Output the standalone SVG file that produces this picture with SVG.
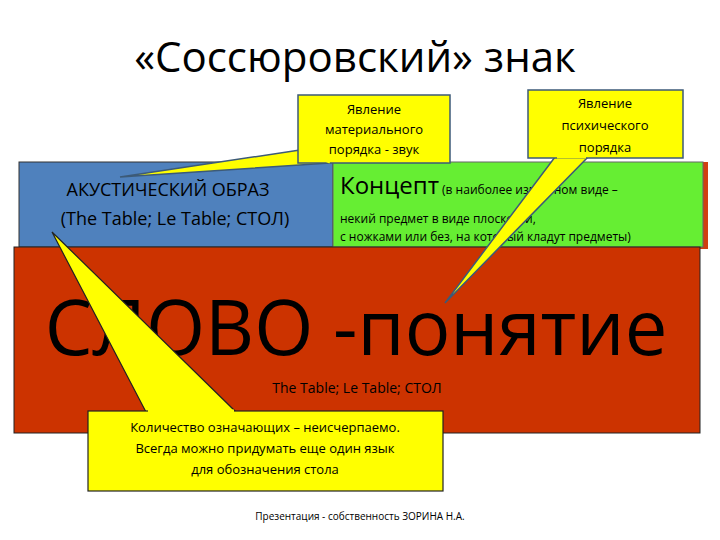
<svg xmlns="http://www.w3.org/2000/svg" width="720" height="540" viewBox="0 0 720 540">
<style>
text{font-family:"Open Sans","Liberation Sans",sans-serif;fill:#000}
.co{fill:#ffff00;stroke:#3c5a78;stroke-width:1.5}
.c3{fill:#ffff00;stroke:#222;stroke-width:1.2}
.s{font-size:13px;text-anchor:middle}
</style>
<rect width="720" height="540" fill="#fff"/>
<text x="355" y="72" font-size="42" text-anchor="middle">«Соссюровский» знак</text>
<g id="shadow"><rect x="336" y="162" width="372" height="87" fill="#d04010"/></g>
<g id="akust">
<rect x="19" y="162" width="314" height="85" fill="#4f81bd" stroke="#333"/>
<text x="168" y="196" font-size="18" text-anchor="middle" fill="#222">АКУСТИЧЕСКИЙ ОБРАЗ</text>
<text x="175" y="225" font-size="18" text-anchor="middle" fill="#222">(The Table; Le Table; СТОЛ)</text>
</g>
<g id="koncept">
<rect x="333" y="162" width="370" height="85" fill="#66ee33" stroke="#666"/>
<text x="340" y="194"><tspan font-size="24">Концепт</tspan><tspan font-size="12"> (в наиболее известном виде –</tspan></text>
<text x="340" y="223" font-size="12">некий предмет в виде плоскости,</text>
<text x="340" y="241" font-size="12">с ножками или без, на который кладут предметы)</text>
</g>
<g id="slovo">
<rect x="14" y="247" width="686" height="186" fill="#cc3300" stroke="#222"/>
<text x="356" y="355" font-size="76" text-anchor="middle">СЛОВО -понятие</text>
<text x="357" y="393" font-size="14" text-anchor="middle" fill="#222">The Table; Le Table; СТОЛ</text>
</g>
<g id="connectors">
<path class="co" d="M300,150 L120,177 L330,163 Z"/>
<path class="co" d="M555,157 L445,303 L588,157 Z"/>
<path class="c3" d="M146,412 L52,232 L236,412 Z"/>
</g>
<g id="callout1">
<rect class="co" x="298" y="95" width="152" height="68"/>
<path d="M302,150 L330,162" stroke="#ffff00" stroke-width="3"/>
<text class="s" x="374" y="114">Явление</text>
<text class="s" x="374" y="134">материального</text>
<text class="s" x="374" y="154">порядка - звук</text>
</g>
<g id="callout2">
<rect class="co" x="528" y="90" width="155" height="68"/>
<path d="M557,157 L586,157" stroke="#ffff00" stroke-width="3"/>
<text class="s" x="605" y="108">Явление</text>
<text class="s" x="605" y="130">психического</text>
<text class="s" x="605" y="152">порядка</text>
</g>
<g id="callout3">
<rect class="c3" x="88" y="411" width="355" height="80"/>
<path d="M148,411 L234,411" stroke="#ffff00" stroke-width="3"/>
<text class="s" x="265" y="432">Количество означающих – неисчерпаемо.</text>
<text class="s" x="265" y="453">Всегда можно придумать еще один язык</text>
<text class="s" x="265" y="474">для обозначения стола</text>
</g>
<text x="360" y="520" font-size="10" text-anchor="middle" fill="#777">Презентация - собственность ЗОРИНА Н.А.</text>
</svg>
